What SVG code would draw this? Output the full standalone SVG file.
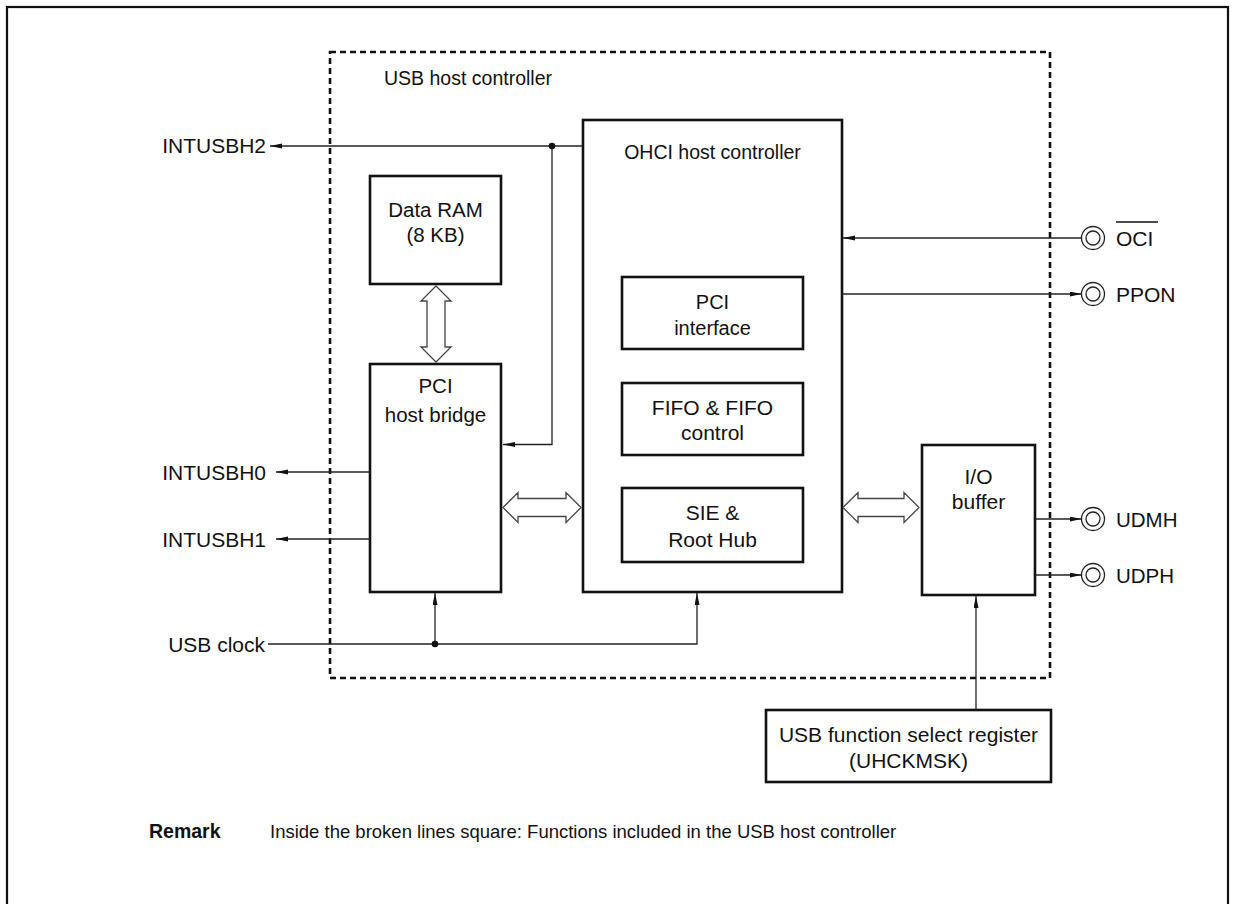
<svg xmlns="http://www.w3.org/2000/svg" width="1235" height="904" viewBox="0 0 1235 904">
<defs>
<marker id="ah" markerUnits="userSpaceOnUse" markerWidth="13" markerHeight="6" refX="12" refY="2.5" orient="auto">
<path d="M0,0 L12,2.5 L0,5 z" fill="#111"/>
</marker>
</defs>
<style>
text{font-family:"Liberation Sans",Arial,Helvetica,sans-serif;font-size:21px;fill:#111}
.mid{text-anchor:middle}
.end{text-anchor:end}
.box{fill:#fff;stroke:#111;stroke-width:2.6}
.wire{fill:none;stroke:#222;stroke-width:1.3}
.arr{marker-end:url(#ah)}
.hollow{fill:#fff;stroke:#444;stroke-width:1.3}
.pin{fill:#fff;stroke:#222;stroke-width:1.3}
.dot{fill:#111}
</style>
<rect x="7" y="7" width="1221" height="930" fill="#fff" stroke="#111" stroke-width="2.2"/>
<g id="usb-host-controller">
<rect x="330" y="52" width="720" height="626" fill="none" stroke="#111" stroke-width="2.6" stroke-dasharray="6,4"/>
<text x="384" y="85" style="font-size:19.5px">USB host controller</text>
</g>
<g id="data-ram">
<rect class="box" x="370" y="176" width="131" height="108"/>
<text class="mid" x="435.5" y="217" style="font-size:20.5px">Data RAM</text>
<text class="mid" x="435.5" y="242" style="font-size:20.5px">(8 KB)</text>
</g>
<g id="pci-host-bridge">
<rect class="box" x="370" y="364" width="131" height="228"/>
<text class="mid" x="435.5" y="393" style="font-size:20.5px">PCI</text>
<text class="mid" x="435.5" y="422" style="font-size:20.5px">host bridge</text>
</g>
<g id="ohci-host-controller">
<rect class="box" x="583" y="120" width="259" height="472"/>
<text class="mid" x="712.5" y="159" style="font-size:19.5px">OHCI host controller</text>
</g>
<g id="pci-interface">
<rect class="box" x="622" y="277" width="181" height="72"/>
<text class="mid" x="712.5" y="309" style="font-size:20px">PCI</text>
<text class="mid" x="712.5" y="335" style="font-size:20px">interface</text>
</g>
<g id="fifo">
<rect class="box" x="622" y="383" width="181" height="72"/>
<text class="mid" x="712.5" y="415">FIFO &amp; FIFO</text>
<text class="mid" x="712.5" y="440">control</text>
</g>
<g id="sie-root-hub">
<rect class="box" x="622" y="488" width="181" height="74"/>
<text class="mid" x="712.5" y="520">SIE &amp;</text>
<text class="mid" x="712.5" y="547">Root Hub</text>
</g>
<g id="io-buffer">
<rect class="box" x="922" y="445" width="113" height="150"/>
<text class="mid" x="978.5" y="484">I/O</text>
<text class="mid" x="978.5" y="509">buffer</text>
</g>
<g id="uhckmsk">
<rect class="box" x="766" y="710" width="285" height="72"/>
<text class="mid" x="908.5" y="742">USB function select register</text>
<text class="mid" x="908.5" y="768">(UHCKMSK)</text>
</g>
<g id="pin-oci">
<circle class="pin" cx="1093" cy="238" r="11.5"/>
<circle class="pin" cx="1093" cy="238" r="7"/>
<text x="1116" y="246">OCI</text>
<line x1="1116" y1="222" x2="1158" y2="222" stroke="#111" stroke-width="1.3"/>
</g>
<g id="pin-ppon">
<circle class="pin" cx="1093" cy="294" r="11.5"/>
<circle class="pin" cx="1093" cy="294" r="7"/>
<text x="1116" y="302">PPON</text>
</g>
<g id="pin-udmh">
<circle class="pin" cx="1093" cy="519" r="11.5"/>
<circle class="pin" cx="1093" cy="519" r="7"/>
<text x="1116" y="527" style="font-size:20.5px">UDMH</text>
</g>
<g id="pin-udph">
<circle class="pin" cx="1093" cy="575" r="11.5"/>
<circle class="pin" cx="1093" cy="575" r="7"/>
<text x="1116" y="583" style="font-size:20.5px">UDPH</text>
</g>
<g id="signal-labels">
<text class="end" x="266" y="153">INTUSBH2</text>
<text class="end" x="266" y="480">INTUSBH0</text>
<text class="end" x="266" y="547">INTUSBH1</text>
<text class="end" x="265" y="652">USB clock</text>
</g>
<g id="connectors">
<path class="wire arr" d="M583,146 H270"/>
<path class="wire arr" d="M552,146 V444.5 H503"/>
<circle class="dot" cx="552" cy="146" r="3.3"/>
<path class="wire arr" d="M370,472 H276"/>
<path class="wire arr" d="M370,539 H276"/>
<path class="wire arr" d="M268,644 H697 V593"/>
<path class="wire arr" d="M435,644 V593"/>
<circle class="dot" cx="435" cy="644" r="3.3"/>
<path class="wire arr" d="M1081.5,238 H843"/>
<path class="wire arr" d="M842,294 H1081.5"/>
<path class="wire arr" d="M1035,519 H1081.5"/>
<path class="wire arr" d="M1035,575 H1081.5"/>
<path class="wire arr" d="M976,710 V596"/>
<polygon class="hollow" points="436,286 451,301 445,301 445,347 451,347 436,362 421,347 427,347 427,301 421,301"/>
<polygon class="hollow" points="503,507.5 518,492.5 518,498.5 566,498.5 566,492.5 581,507.5 566,522.5 566,516.5 518,516.5 518,522.5"/>
<polygon class="hollow" points="843,507.5 858,492.5 858,498.5 904,498.5 904,492.5 919,507.5 904,522.5 904,516.5 858,516.5 858,522.5"/>
</g>
<g id="remark">
<text x="149" y="838" font-weight="bold" style="font-size:19.5px">Remark</text>
<text x="270" y="838" style="font-size:18.5px">Inside the broken lines square:  Functions included in the USB host controller</text>
</g>
</svg>
